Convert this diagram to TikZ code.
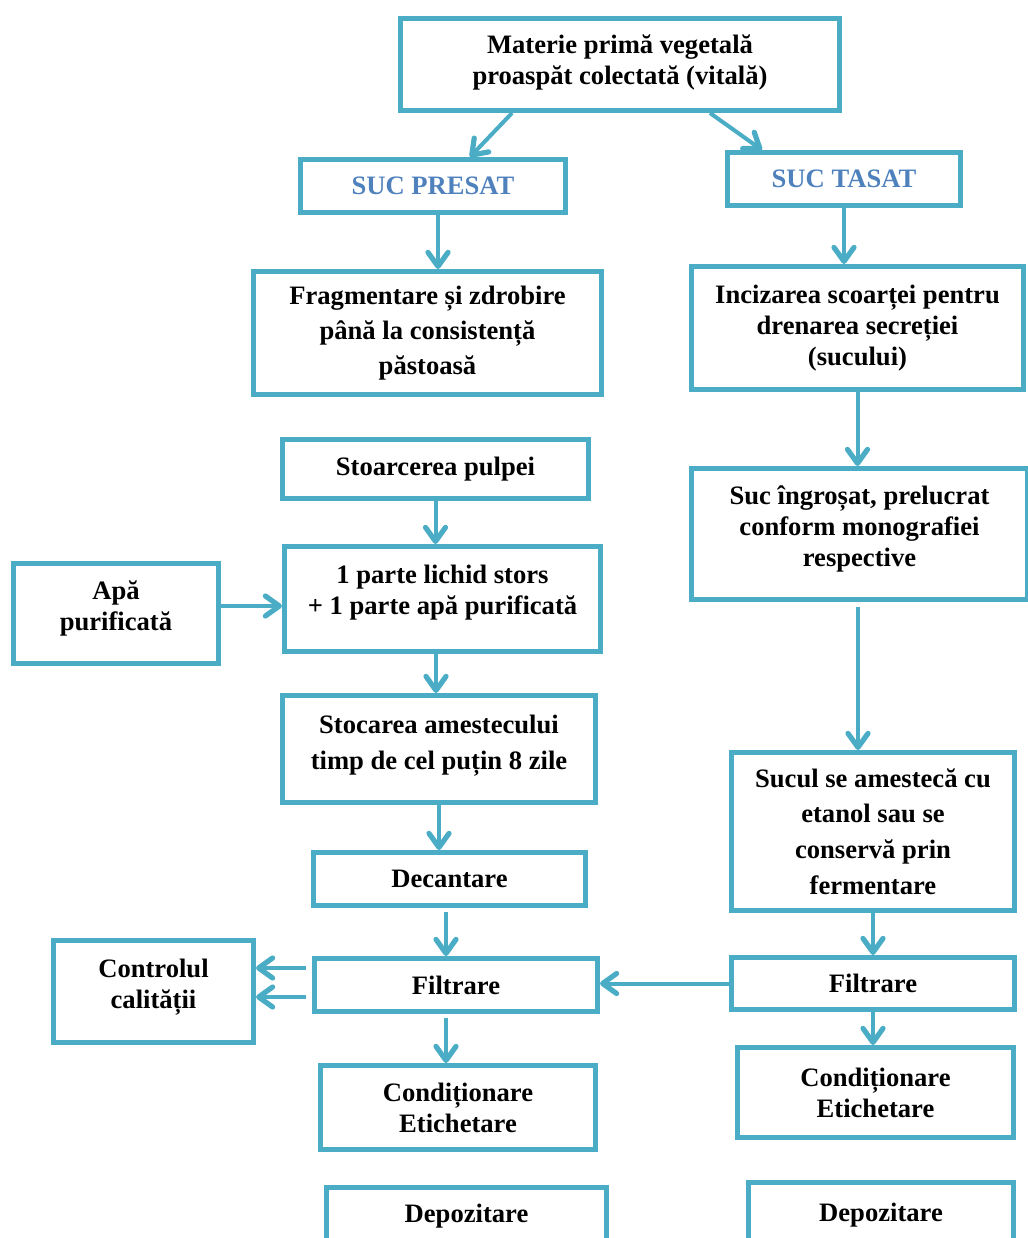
\documentclass[tikz,border=0pt]{standalone}
\usepackage{fontspec}
\setmainfont{Liberation Serif}
\usepackage{tikz}
\usetikzlibrary{arrows.meta}
\definecolor{aqua}{HTML}{4BACC6}
\definecolor{sucblue}{HTML}{4F81BD}

\begin{document}
\begin{tikzpicture}[x=0.5pt,y=-0.5pt,
 blk/.style n args={2}{draw=aqua,line width=2.5pt,rectangle,minimum width=#1*0.5pt,minimum height=#2*0.5pt,inner sep=0pt,align=center,font=\bfseries\fontsize{13.3}{15.5}\selectfont},
 lift/.style={text depth=#1},
 arr/.style={draw=aqua,line width=2pt,-{Straight Barb[length=7pt,width=10pt,line width=2.6pt,round]}}]
\clip (0,0) rectangle (1028,1238);
\node[blk={439}{92},lift=4.5pt] (top) at (620,64.5) {Materie primă vegetală\\proaspăt colectată (vitală)};
\node[blk={265}{53},text=sucblue] (presat) at (433,186) {SUC PRESAT};
\node[blk={233}{53},text=sucblue] (tasat) at (844,179) {SUC TASAT};
\node[blk={348}{123}] (frag) at (427.5,333) {Fragmentare și zdrobire\\[2pt]până la consistență\\[2pt]păstoasă};
\node[blk={332}{123}] (inciz) at (857.5,328) {Incizarea scoarței pentru\\drenarea secreției\\(sucului)};
\node[blk={306}{59}] (stoarc) at (435.5,469) {Stoarcerea pulpei};
\node[blk={316}{105},lift=8.9pt] (parte) at (442.5,599) {1 parte lichid stors\\+ 1 parte apă purificată};
\node[blk={205}{100},lift=7.9pt] (apa) at (116,613.5) {Apă\\purificată};
\node[blk={313}{107},lift=6.9pt] (stocare) at (439,749) {Stocarea amestecului\\[2.5pt]timp de cel puțin 8 zile};
\node[blk={336}{131},lift=7.9pt] (ingros) at (859.5,534) {Suc îngroșat, prelucrat\\conform monografiei\\respective};
\node[blk={283}{158}] (amestec) at (873,831.5) {Sucul se amestecă cu\\[2.3pt]etanol sau se\\[2.3pt]conservă prin\\[2.3pt]fermentare};
\node[blk={272}{53}] (decant) at (449.5,879) {Decantare};
\node[blk={283}{53}] (filtL) at (456,985) {Filtrare};
\node[blk={200}{102},lift=8pt] (control) at (153.5,991.5) {Controlul\\calității};
\node[blk={283}{52}] (filtR) at (873,983.5) {Filtrare};
\node[blk={275}{84}] (condL) at (458,1107.5) {Condiționare\\Etichetare};
\node[blk={276}{90}] (condR) at (875.5,1092.5) {Condiționare\\Etichetare};
\node[blk={280}{0},anchor=north,text height=17.75pt,text depth=40pt] (depL) at (466.5,1184.5) {Depozitare};
\node[blk={265}{0},anchor=north,text height=19.75pt,text depth=40pt] (depR) at (881,1179.5) {Depozitare};

\draw[arr] ([xshift=-54pt]top.south) -- ([xshift=18.5pt]presat.north);
\draw[arr] ([xshift=45pt]top.south) -- ([xshift=-41pt]tasat.north);
\draw[arr] ([xshift=2.5pt]presat.south) -- ([xshift=2.5pt]presat.south |- frag.north);
\draw[arr] (tasat.south) -- (tasat.south |- inciz.north);
\draw[arr] (stoarc.south) -- (stoarc.south |- parte.north);
\draw[arr] ([yshift=3.75pt]apa.east) -- ([yshift=3.75pt]apa.east -| parte.west);
\draw[arr] ([xshift=-3.25pt]parte.south) -- ([xshift=-3.25pt]parte.south |- stocare.north);
\draw[arr] (stocare.south) -- (stocare.south |- decant.north);
\draw[arr] ([xshift=-1.75pt,yshift=-2pt]decant.south) -- ([xshift=-1.75pt]decant.south |- filtL.north);
\draw[arr] ([xshift=-3pt,yshift=8.5pt]filtL.west) -- ([yshift=8.5pt]filtL.west -| control.east);
\draw[arr] ([xshift=-3pt,yshift=-6pt]filtL.west) -- ([yshift=-6pt]filtL.west -| control.east);
\draw[arr] (filtR.west) -- (filtR.west -| filtL.east);
\draw[arr] ([xshift=-5pt,yshift=-2pt]filtL.south) -- ([xshift=-5pt]filtL.south |- condL.north);
\draw[arr] (inciz.south) -- (inciz.south |- ingros.north);
\draw[arr] ([xshift=-0.75pt,yshift=-2.5pt]ingros.south) -- ([xshift=-0.75pt]ingros.south |- amestec.north);
\draw[arr] (amestec.south) -- (amestec.south |- filtR.north);
\draw[arr] (filtR.south) -- (filtR.south |- condR.north);
\end{tikzpicture}
\end{document}
